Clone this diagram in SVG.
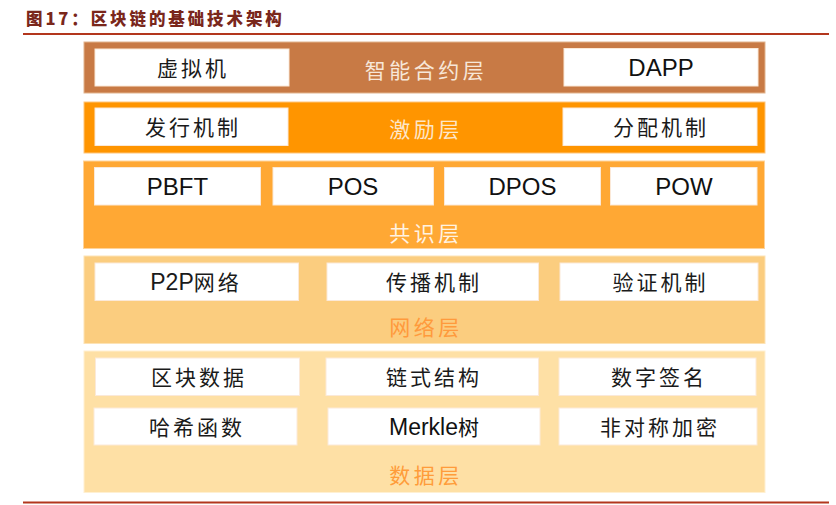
<svg xmlns="http://www.w3.org/2000/svg" width="836" height="505" viewBox="0 0 836 505">
<style>
.box{fill:#ffffff;stroke:#fbe9d8;stroke-width:1}
.cn{font-family:"Noto Sans CJK SC","Noto Sans",sans-serif;font-size:21px;letter-spacing:3px;fill:#1a1a1a;text-anchor:middle}
.en{font-family:"Liberation Sans",Arial,sans-serif;font-size:24px;fill:#111111;text-anchor:middle}
.lbl{font-family:"Noto Sans CJK SC","Noto Sans",sans-serif;font-size:21px;letter-spacing:3.5px;text-anchor:middle}
.rule{stroke:#b3361d;stroke-width:2}
</style>
<rect width="836" height="505" fill="#ffffff"/>
<g id="title">
<text x="26" y="24.5" font-family="'Noto Sans CJK SC','Liberation Sans',sans-serif" font-size="16.5" font-weight="900" letter-spacing="2.9" fill="#7a271b">图17：区块链的基础技术架构</text>
<line class="rule" x1="23" y1="34" x2="829" y2="34"/>
<line class="rule" x1="23" y1="502.5" x2="829" y2="502.5"/>
</g>
<g id="connectors"/>
<g id="layer-contract">
<rect x="84" y="42" width="681" height="51" fill="#c87a45" stroke="#e2b48e" stroke-width="1"/>
<text class="lbl" x="426" y="78" fill="#f7e7d9">智能合约层</text>
<g id="node-vm"><rect class="box" x="95" y="49" width="194" height="37"/><text class="cn" x="193" y="76">虚拟机</text></g>
<g id="node-dapp"><rect class="box" x="564" y="48.5" width="194" height="37.5"/><text class="en" x="661" y="76">DAPP</text></g>
</g>
<g id="layer-incentive">
<rect x="84" y="102" width="681" height="51" fill="#ff9500" stroke="#ffc57a" stroke-width="1"/>
<text class="lbl" x="426" y="137" fill="#fde6c8">激励层</text>
<g id="node-issue"><rect class="box" x="95" y="108" width="193" height="37.5"/><text class="cn" x="193" y="135">发行机制</text></g>
<g id="node-alloc"><rect class="box" x="563" y="108" width="194" height="37.5"/><text class="cn" x="661" y="135">分配机制</text></g>
</g>
<g id="layer-consensus">
<rect x="83.5" y="161" width="681" height="87.5" fill="#ffa834" stroke="#ffd39a" stroke-width="1"/>
<text class="lbl" x="426" y="241" fill="#fff3e2">共识层</text>
<g id="node-pbft"><rect class="box" x="94.5" y="167.5" width="166" height="37.5"/><text class="en" x="177.5" y="195">PBFT</text></g>
<g id="node-pos"><rect class="box" x="273" y="167.5" width="160.5" height="37.5"/><text class="en" x="353" y="195">POS</text></g>
<g id="node-dpos"><rect class="box" x="444.5" y="167.5" width="156" height="37.5"/><text class="en" x="522.5" y="195">DPOS</text></g>
<g id="node-pow"><rect class="box" x="610.5" y="167.5" width="146.5" height="37.5"/><text class="en" x="684" y="195">POW</text></g>
</g>
<g id="layer-network">
<rect x="84" y="256" width="681" height="87.5" fill="#fbcd7f" stroke="#fde3b6" stroke-width="1"/>
<text class="lbl" x="426" y="335" fill="#ff9a3c">网络层</text>
<g id="node-p2p"><rect class="box" x="95" y="263" width="203.5" height="37.5"/><text x="196" y="290" text-anchor="middle" fill="#1a1a1a"><tspan font-family="'Liberation Sans',Arial,sans-serif" font-size="23">P2P</tspan><tspan font-family="'Noto Sans CJK SC',sans-serif" font-size="21" letter-spacing="3">网络</tspan></text></g>
<g id="node-spread"><rect class="box" x="327" y="263" width="211.5" height="37.5"/><text class="cn" x="434" y="290">传播机制</text></g>
<g id="node-verify"><rect class="box" x="560" y="263" width="198" height="37.5"/><text class="cn" x="660.5" y="290">验证机制</text></g>
</g>
<g id="layer-data">
<rect x="84" y="351" width="681" height="141.5" fill="#fee0a5" stroke="#fff0d2" stroke-width="1"/>
<text class="lbl" x="426" y="483" fill="#ff9c3a">数据层</text>
<g id="node-block"><rect class="box" x="95.5" y="358" width="204" height="37.5"/><text class="cn" x="199" y="385">区块数据</text></g>
<g id="node-chain"><rect class="box" x="326" y="358" width="212.5" height="37.5"/><text class="cn" x="434" y="385">链式结构</text></g>
<g id="node-sign"><rect class="box" x="559" y="358" width="197" height="37.5"/><text class="cn" x="659" y="385">数字签名</text></g>
<g id="node-hash"><rect class="box" x="94" y="408" width="203" height="37"/><text class="cn" x="197" y="434.5">哈希函数</text></g>
<g id="node-merkle"><rect class="box" x="328" y="408" width="212" height="37"/><text x="434" y="435" text-anchor="middle" fill="#111111"><tspan font-family="'Liberation Sans',Arial,sans-serif" font-size="23">Merkle</tspan><tspan font-family="'Noto Sans CJK SC',sans-serif" font-size="21">树</tspan></text></g>
<g id="node-asym"><rect class="box" x="559" y="408" width="198" height="37"/><text class="cn" x="660" y="434.5">非对称加密</text></g>
</g>
</svg>
